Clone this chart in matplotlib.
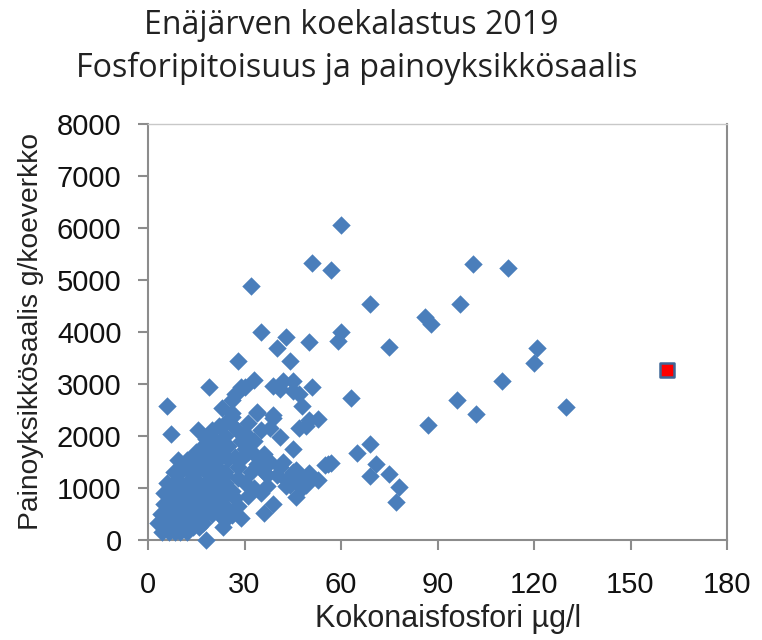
import matplotlib
matplotlib.use("Agg")
import matplotlib.pyplot as plt

plt.rcParams['font.family'] = ['Liberation Sans', 'DejaVu Sans']

title_line1 = "Enäjärven koekalastus 2019"
title_line2 = "Fosforipitoisuus ja painoyksikkösaalis"
x_label = "Kokonaisfosfori µg/l"
y_label = "Painoyksikkösaalis g/koeverkko"
x_ticks = [0, 30, 60, 90, 120, 150, 180]
y_ticks = [0, 1000, 2000, 3000, 4000, 5000, 6000, 7000, 8000]

sparse_x = [60,51,57,101,112,32,69,97,86,88,35,43,60,59,50,40,75,121,44,28,120,110,33,19,42,45,39,41,45,47,51,30,28,63,96,26,48,130,6,102,34,53,50,39,87,47,49,7,69,65,45,71,57,55,75,69,78,77,18]
sparse_y = [6050,5330,5200,5300,5230,4880,4530,4530,4280,4150,4000,3900,4000,3820,3800,3700,3720,3700,3450,3450,3400,3060,3070,2950,3060,3060,2960,2900,2870,2800,2950,2950,2850,2730,2700,2700,2580,2560,2570,2420,2450,2330,2300,2350,2220,2150,2200,2030,1850,1680,1750,1470,1480,1440,1260,1240,1010,730,0]

mid_x = [29,27,23,26,15.6,20,18,15,17,21,24,27,31,35,39,34,38,41,34,36,46,50,53,56,46,48,37,35,39,36,43,46,45,42,30,29,36,38,41,23,25,28,30,33,32,21,24,26,28,31,19,22,25,27,29,33,24,26,22,20,28,30,31,33,35,37,40,43,44,47,49]
mid_y = [2950,2800,2530,2370,2110,2110,1950,1700,1800,1900,2000,2150,2250,2120,2400,2470,2150,1990,1470,1650,1350,1280,1150,1470,1150,1000,1030,900,700,510,1030,830,1300,1500,1750,1550,1300,1500,1400,1300,1550,1400,1100,1000,1300,1500,1250,950,1200,850,1350,1700,1800,1600,1900,1650,2250,2450,2200,1750,2100,2050,1700,1900,1550,1250,1250,1150,1050,1200,1050]

core_x = [3,5,7,9,11,13,15,17,4.5,6.5,8.5,10,12,14,16,23.4,4,6,8,10,12,14,16,18,20,22,5,7,9,11,13,15,17,19,21,23,25,5,7,9,11,13,15,17,19,21,23,25,27,6,8,10,12,14,16,18,20,22,24,9.4,12,8,10,13,15,18,20,22,24,29,26,28,24,16,14,11,19,21,17]
core_y = [320,320,320,320,320,320,320,320,150,150,150,150,150,250,250,250,500,500,500,500,500,500,500,500,500,500,700,700,700,700,700,700,700,700,700,700,600,900,900,900,900,900,900,900,900,900,900,900,800,1100,1100,1100,1100,1100,1100,1100,1100,1100,1100,1540,1540,1300,1300,1300,1300,1300,1300,1300,1300,420,480,650,380,1500,1450,1450,1500,1550,1650]

ref_x = [161.5]
ref_y = [3260]

all_x = sparse_x + mid_x + core_x
all_y = sparse_y + mid_y + core_y

fig = plt.figure(figsize=(7.62, 6.4), dpi=100)
ax = fig.add_axes([148/762, 1-540/640, (727-148)/762, (540-124)/640])
ax.scatter(all_x, all_y, marker='D', s=88, color='#4a7ebb', linewidths=0, zorder=3, clip_on=False)
ax.scatter(ref_x, ref_y, marker='s', s=105, facecolor='#ff0000', edgecolor='#3f6797', linewidths=1.8, zorder=4)

ax.set_xlim(0, 180)
ax.set_ylim(0, 8000)
ax.set_xticks(x_ticks)
ax.set_yticks(y_ticks)
ax.tick_params(axis='both', labelsize=21, length=7, width=1.5, color='#8c8c8c', labelcolor='#111111', direction='out')
ax.tick_params(axis='x', pad=15)
ax.tick_params(axis='y', pad=12)
for side, sp in ax.spines.items():
    sp.set_color('#8c8c8c')
    sp.set_linewidth(1.5)
ax.spines['top'].set_color('#c8c8c8')
ax.spines['top'].set_linewidth(1.0)

ax.set_xlabel(x_label, fontsize=22, color='#222222', labelpad=3)
ax.set_ylabel(y_label, fontsize=20.3, color='#222222', labelpad=2)
ax.xaxis.set_label_coords((448-148)/579, -(619-540)/416, transform=ax.transAxes)
ax.xaxis.label.set_va('center')
ax.yaxis.set_label_coords((31-148)/579, (540-331)/416, transform=ax.transAxes)
ax.yaxis.label.set_va('center')
fig.text(351/762, 1-25/640, title_line1, fontsize=23, family=['Open Sans', 'DejaVu Sans'],
         ha='center', va='center', color='#222222')
fig.text(357/762, 1-68/640, title_line2, fontsize=23.3, family=['Open Sans', 'DejaVu Sans'],
         ha='center', va='center', color='#222222')
fig.savefig('out.png', dpi=100)
